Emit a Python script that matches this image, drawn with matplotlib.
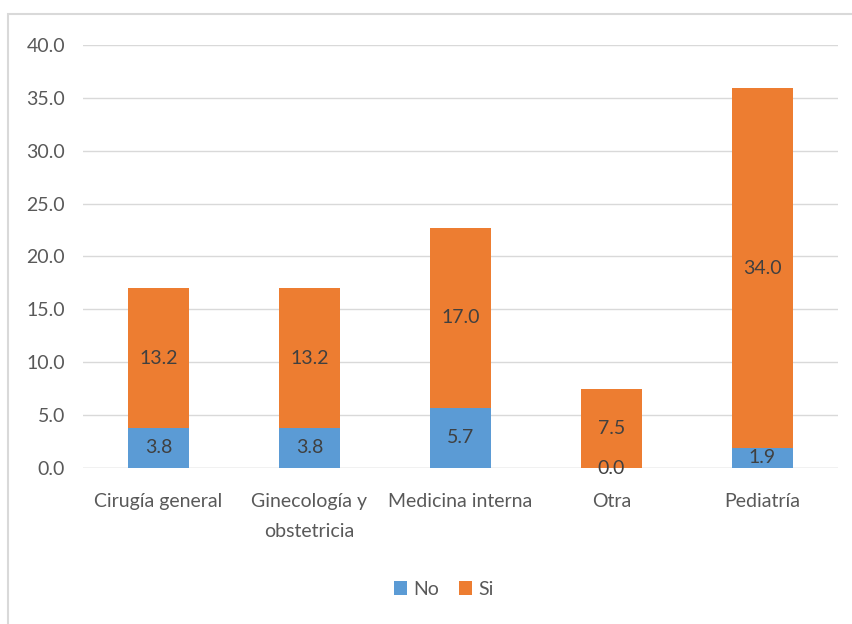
import matplotlib.pyplot as plt
from matplotlib.patches import Rectangle

categories = ['Cirugía general', 'Ginecología y\nobstetricia', 'Medicina interna', 'Otra', 'Pediatría']
no_vals = [3.8, 3.8, 5.7, 0.0, 1.9]
si_vals = [13.2, 13.2, 17.0, 7.5, 34.0]

blue = '#5B9BD5'
orange = '#ED7D31'
gray = '#595959'

plt.rcParams['font.family'] = ['Lato', 'DejaVu Sans']

fig = plt.figure(figsize=(8.53, 6.24), dpi=100)
ax = fig.add_axes([0.0973, 0.25, 0.885, 0.678])

x = range(len(categories))
b1 = ax.bar(x, no_vals, width=0.4, color=blue, label='No')
b2 = ax.bar(x, si_vals, width=0.4, bottom=no_vals, color=orange, label='Si')

for i in x:
    ax.text(i, no_vals[i] / 2, f'{no_vals[i]:.1f}', ha='center', va='center',
            fontsize=14, color='#404040')
    ax.text(i, no_vals[i] + si_vals[i] / 2, f'{si_vals[i]:.1f}', ha='center', va='center',
            fontsize=14, color='#404040')

ax.set_ylim(0, 40)
ax.set_xlim(-0.5, 4.5)
ax.set_yticks(range(0, 41, 5))
ax.set_yticklabels([f'{v:.1f}' for v in range(0, 41, 5)])
ax.set_xticks(list(x))
ax.set_xticklabels(categories, linespacing=1.9, va='top')
ax.tick_params(length=0, labelsize=14, colors=gray)
ax.tick_params(axis='x', pad=18)
ax.tick_params(axis='y', pad=13)
ax.grid(axis='y', color='#D9D9D9', linewidth=1)
ax.set_axisbelow(True)
for s in ax.spines.values():
    s.set_visible(False)
ax.axhline(0, color='#D9D9D9', linewidth=1, zorder=0)

fig.legend(handles=[b1, b2], loc='center', bbox_to_anchor=(0.52, 0.056), ncol=2,
           frameon=False, fontsize=14, handlelength=0.7, handleheight=0.7,
           handletextpad=0.3, columnspacing=1.0, labelcolor=gray)

fig.patches.append(Rectangle((8 / 853, -0.01), 1.0, (624 - 14) / 624 + 0.01,
                             transform=fig.transFigure, fill=False,
                             edgecolor='#D9D9D9', linewidth=1.5))

fig.savefig('out.png', dpi=100)
